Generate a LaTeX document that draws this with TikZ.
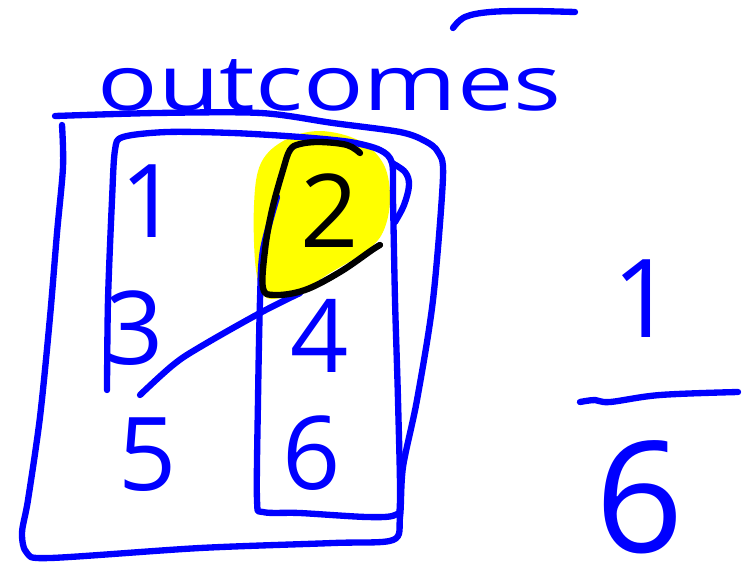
\documentclass[tikz,border=0pt]{standalone}
\usepackage{fontspec}
\setmainfont{Open Sans}
\usepackage{tikz}
\definecolor{penblue}{RGB}{0,0,255}
\definecolor{hilite}{RGB}{255,255,0}
\tikzset{
  pen/.style={penblue,line width=3.6pt,line cap=round,line join=round},
  inkpen/.style={pen,black},
  digit/.style={penblue,inner sep=0pt,font=\fontsize{58}{60}\selectfont}
}

\begin{document}
\begin{tikzpicture}[x=0.02cm,y=-0.02cm]
  \useasboundingbox (0,0) rectangle (754,566);
  % highlight behind the 2
  \fill[hilite] plot[smooth cycle,tension=0.6] coordinates {(254,205) (261,163) (285,140) (320,131) (360,141) (384,165) (390,200) (383,232) (366,251) (330,273) (300,291) (267,298) (256,270)};
  % heading
  \node[penblue,inner sep=0pt,anchor=base west,xscale=1.3,font=\fontsize{44}{46}\selectfont] (title) at (97,110) {outcomes};
  \draw[pen] plot[smooth,tension=0.6] coordinates {(453,28) (465,17) (490,12) (530,11) (575,12)};
  % outer frame, drawn on from the underline
  \draw[pen] plot[smooth,tension=0.5] coordinates {(62,125) (63,167) (57,233) (50,317) (40,417) (28,500) (22,533) (27,553) (50,558) (200,548) (333,543) (393,540) (400,517) (403,467) (417,400) (433,300) (443,177) (438,152) (425,141) (400,132) (333,123) (261,113) (156,113) (55,116)};
  % inner frame and the even column
  \draw[pen] plot[smooth,tension=0.5] coordinates {(107,390) (108,300) (112,200) (115,150) (123,137) (167,132) (233,133) (300,137) (350,142) (380,150) (392,163) (393,200) (395,300) (398,400) (400,500) (395,515) (367,517) (300,513) (263,512) (257,500) (258,400) (260,300) (263,250) (277,197)};
  \draw[pen] plot[smooth,tension=0.6] coordinates {(392,163) (405,172) (409,185) (404,205) (395,222)};
  \draw[pen] plot[smooth,tension=0.6] coordinates {(300,293) (260,313) (200,347) (173,365) (140,395)};
  % ring round the 2
  \draw[inkpen] plot[smooth,tension=0.6] coordinates {(360,153) (347,145) (320,142) (300,144) (290,150) (283,170) (272,210) (265,250) (263,288) (275,295) (305,290) (340,272) (372,250) (380,245)};
  % die faces
  \node[digit] (one) at (150,201) {1};
  \node[digit,black] (two) at (330,211) {2};
  \node[digit] (three) at (135,328) {3};
  \node[digit] (four) at (320,336) {4};
  \node[digit] (five) at (148,455) {5};
  \node[digit] (six) at (312,453) {6};
  % probability
  \node[digit,font=\fontsize{62}{64}\selectfont] (num) at (644,299) {1};
  \draw[pen] plot[smooth,tension=0.6] coordinates {(580,402) (595,400) (610,402) (660,395) (738,392)};
  \node[digit,font=\fontsize{88}{90}\selectfont] (den) at (640,497) {6};
\end{tikzpicture}
\end{document}
